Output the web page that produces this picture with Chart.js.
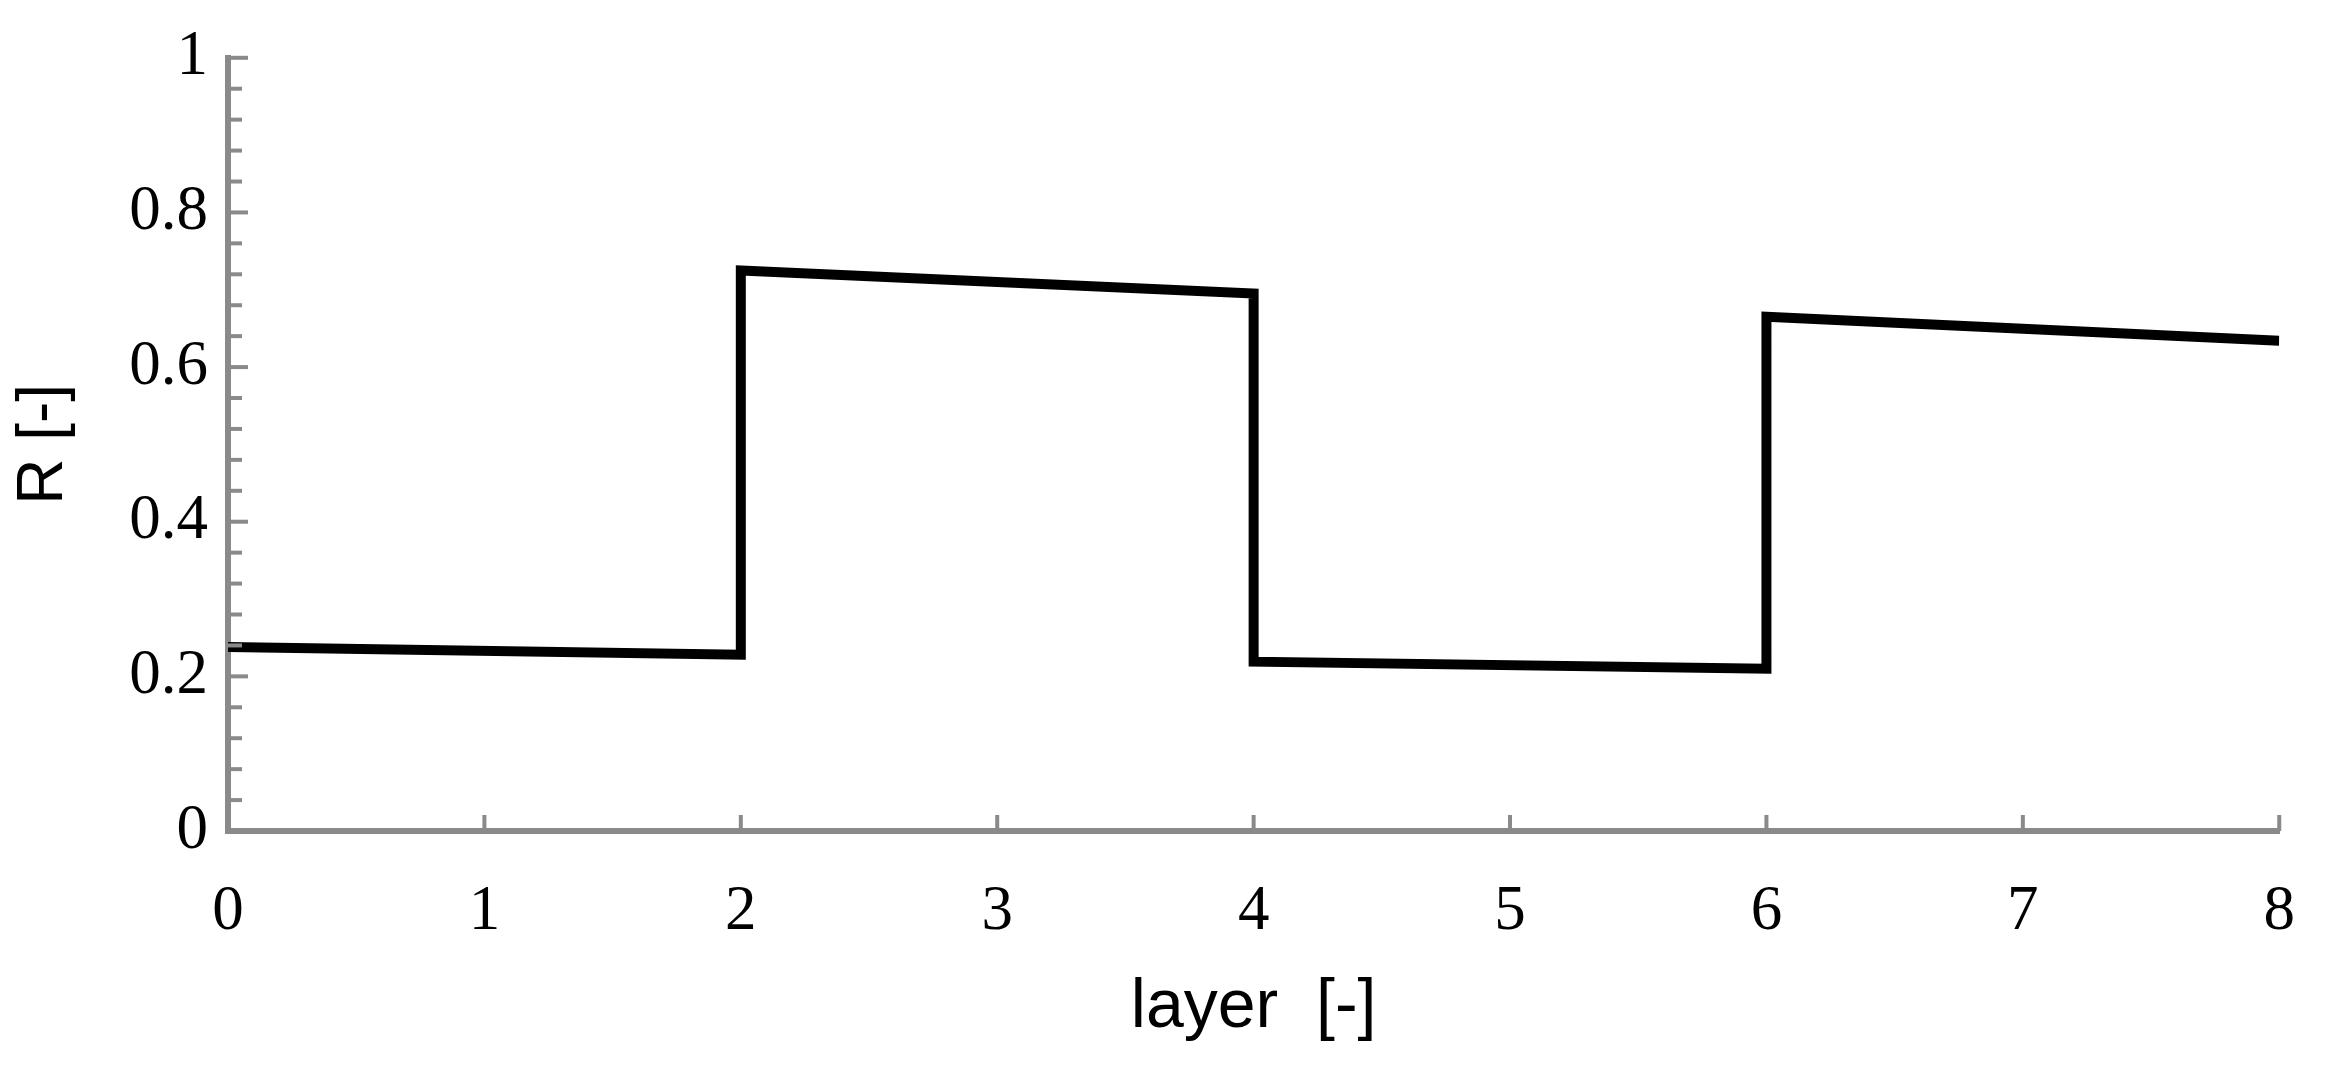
<!DOCTYPE html>
<html>
<head>
<meta charset="utf-8">
<script src="https://cdn.jsdelivr.net/npm/chart.js@4.4.0/dist/chart.umd.min.js"></script>
<style>
  html, body { margin: 0; padding: 0; background: #fff; }
  #wrap { width: 2339px; height: 1069px; }
</style>
</head>
<body>
<div id="wrap"><canvas id="myChart"></canvas></div>
<script>
// layer positions (step profile, each jump listed twice)
var layerX = [0, 2, 2, 4, 4, 6, 6, 8];
var rValues = [0.238, 0.228, 0.725, 0.695, 0.219, 0.210, 0.665, 0.634];
var xTicks = [0, 1, 2, 3, 4, 5, 6, 7, 8];
var yTicks = [0, 0.2, 0.4, 0.6, 0.8, 1];
var yTickLabels = ['0', '0.2', '0.4', '0.6', '0.8', '1'];

var axisGray = '#8a8a8a';

// short inward tick marks, like the original
var innerTicks = {
    id: 'innerTicks',
    afterDraw: function (chart) {
        var c = chart.ctx;
        var xs = chart.scales.x, ys = chart.scales.y;
        var x0 = xs.getPixelForValue(0), y0 = ys.getPixelForValue(0);
        c.save();
        c.strokeStyle = axisGray;
        c.lineWidth = 4;
        for (var i = 0; i <= 25; i++) {
            var v = i * 0.04;
            var py = ys.getPixelForValue(v);
            var len = (i % 5 === 0) ? 20 : 14;
            c.beginPath();
            c.moveTo(x0, py);
            c.lineTo(x0 + len, py);
            c.stroke();
        }
        xTicks.forEach(function (t) {
            var px = xs.getPixelForValue(t);
            c.beginPath();
            c.moveTo(px, y0);
            c.lineTo(px, y0 - 16);
            c.stroke();
        });
        c.restore();
    }
};

var ctx = document.getElementById('myChart').getContext('2d');
var myChart = new Chart(ctx, {
    type: 'line',
    data: {
        datasets: [{
            label: 'R',
            data: layerX.map(function (x, i) { return { x: x, y: rValues[i] }; }),
            borderColor: '#000',
            backgroundColor: 'transparent',
            borderWidth: 10,
            pointRadius: 0,
            tension: 0,
            borderJoinStyle: 'miter'
        }]
    },
    options: {
        responsive: true,
        maintainAspectRatio: false,
        animation: false,
        layout: {
            padding: { top: 57, right: 54, left: 0, bottom: 0 }
        },
        plugins: {
            legend: { display: false },
            tooltip: { enabled: false }
        },
        scales: {
            x: {
                type: 'linear',
                min: 0,
                max: 8,
                afterBuildTicks: function (s) {
                    s.ticks = xTicks.map(function (v) { return { value: v }; });
                },
                afterFit: function (s) { s.height = 238; },
                border: { color: axisGray, width: 6 },
                grid: { display: false, drawTicks: false },
                ticks: {
                    color: '#000',
                    padding: 44,
                    font: { family: 'Liberation Serif', size: 63 }
                },
                title: {
                    display: true,
                    text: 'layer  [-]',
                    color: '#000',
                    font: { family: 'Liberation Sans', size: 68 },
                    padding: { top: 0, bottom: 20 }
                }
            },
            y: {
                min: 0,
                max: 1,
                afterBuildTicks: function (s) {
                    s.ticks = yTicks.map(function (v) { return { value: v }; });
                },
                afterFit: function (s) { s.width = 228; },
                border: { color: axisGray, width: 6 },
                grid: { display: false, drawTicks: false },
                ticks: {
                    color: '#000',
                    padding: 20,
                    font: { family: 'Liberation Serif', size: 63 },
                    callback: function (v, i) { return yTickLabels[i]; }
                },
                title: {
                    display: true,
                    text: 'R [-]',
                    color: '#000',
                    font: { family: 'Liberation Sans', size: 64 },
                    padding: { top: 6, bottom: 0 }
                }
            }
        }
    },
    plugins: [innerTicks]
});
</script>
</body>
</html>
